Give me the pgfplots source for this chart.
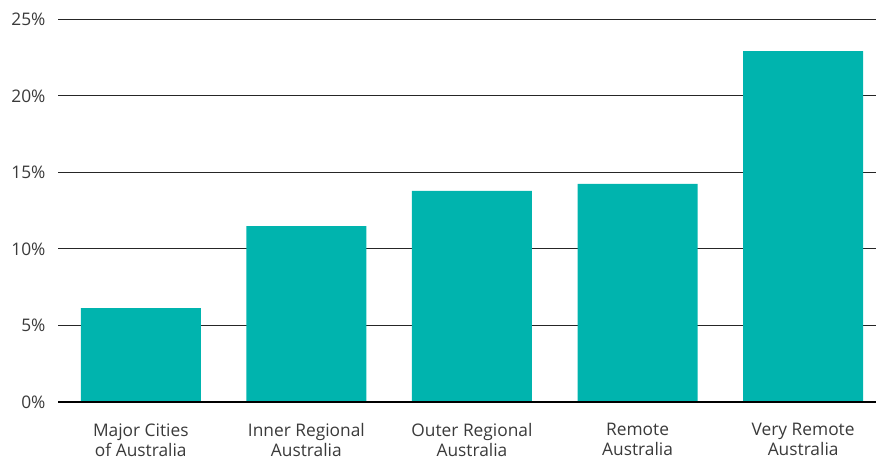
\documentclass[border=0pt]{standalone}
\usepackage{fontspec}
\setmainfont{Open Sans}
\usepackage{pgfplots}
\pgfplotsset{compat=1.18}
\definecolor{barteal}{HTML}{00B4AE}
\definecolor{labgray}{HTML}{3A3A3A}
\begin{document}
\begin{tikzpicture}
\begin{axis}[
  scale only axis,
  width=818bp, height=382.5bp,
  xmin=-0.5, xmax=4.44,
  ymin=0, ymax=25,
  axis line style={draw=none},
  ybar, bar width=120bp, bar shift=0pt,
  xtick={0,1,2,3,4},
  xticklabels={{Major Cities\\of Australia},{Inner Regional\\Australia},{Outer Regional\\Australia},{Remote\\Australia},{Very Remote\\Australia}},
  xticklabel style={align=center, font=\fontsize{17.4}{20}\selectfont, text=labgray, yshift=-18bp},
  ytick={0,5,10,15,20,25},
  yticklabel={\pgfmathprintnumber{\tick}\%},
  yticklabel style={font=\fontsize{17.4}{20}\selectfont, text=labgray, xshift=-9bp},
  /pgf/number format/assume math mode=true,
  major tick length=0pt,
  ymajorgrids, grid style={draw=black!85, line width=1bp},
  axis on top=false,
  clip=false,
]
\addplot[fill=barteal, draw=none] coordinates {(0,6.14) (1,11.5) (2,13.8) (3,14.25) (4,22.94)};
\draw[black, line width=2bp] (rel axis cs:0,0) -- (rel axis cs:1,0);
\end{axis}
\pgfresetboundingbox
\path[use as bounding box] (-58bp,-60bp) rectangle (818bp,402bp);
\end{tikzpicture}
\end{document}
